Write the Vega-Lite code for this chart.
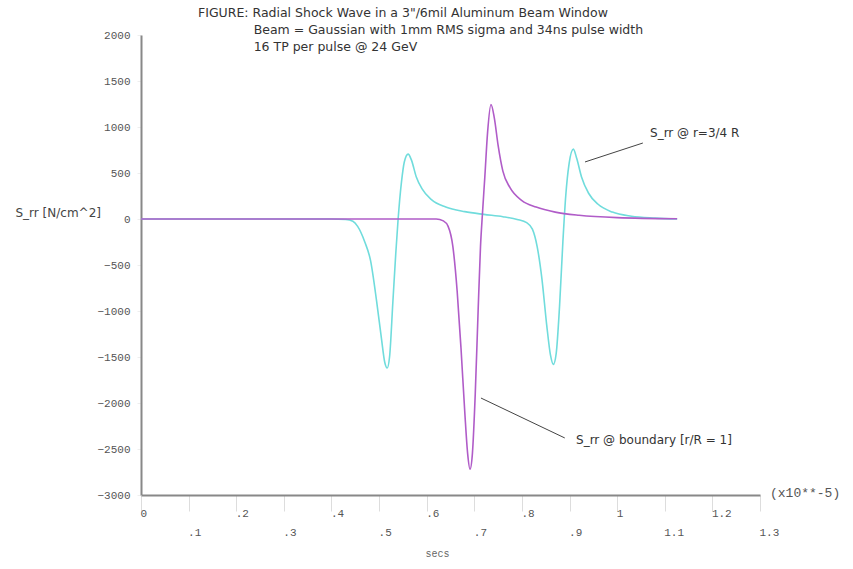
{
  "$schema": "https://vega.github.io/schema/vega-lite/v6.json",
  "width": 619,
  "height": 460,
  "autosize": "none",
  "padding": {"left": 141, "top": 35, "right": 93, "bottom": 74},
  "background": "white",
  "config": {"view": {"stroke": null}, "font": "DejaVu Sans"},
  "title": {
    "text": ["FIGURE:  Radial Shock Wave in a 3\"/6mil Aluminum Beam Window", "\u200b\u00a0\u00a0\u00a0\u00a0\u00a0\u00a0\u00a0\u00a0\u00a0\u00a0\u00a0\u00a0\u00a0\u00a0Beam  =  Gaussian with 1mm RMS sigma and 34ns pulse width", "\u200b\u00a0\u00a0\u00a0\u00a0\u00a0\u00a0\u00a0\u00a0\u00a0\u00a0\u00a0\u00a0\u00a0\u00a016 TP per pulse @ 24 GeV"],
    "anchor": "start",
    "frame": "group",
    "dx": 57,
    "offset": -24,
    "fontSize": 12.5,
    "fontWeight": "normal",
    "font": "DejaVu Sans",
    "color": "#333333",
    "lineHeight": 17
  },
  "datasets": {
    "curves": [
      {"t": 0.0, "s": 0, "series": "r=3/4 R"},
      {"t": 0.40, "s": 0, "series": "r=3/4 R"},
      {"t": 0.43, "s": -5, "series": "r=3/4 R"},
      {"t": 0.445, "s": -25, "series": "r=3/4 R"},
      {"t": 0.455, "s": -80, "series": "r=3/4 R"},
      {"t": 0.47, "s": -250, "series": "r=3/4 R"},
      {"t": 0.482, "s": -450, "series": "r=3/4 R"},
      {"t": 0.495, "s": -900, "series": "r=3/4 R"},
      {"t": 0.505, "s": -1300, "series": "r=3/4 R"},
      {"t": 0.512, "s": -1560, "series": "r=3/4 R"},
      {"t": 0.517, "s": -1620, "series": "r=3/4 R"},
      {"t": 0.522, "s": -1500, "series": "r=3/4 R"},
      {"t": 0.529, "s": -900, "series": "r=3/4 R"},
      {"t": 0.535, "s": -380, "series": "r=3/4 R"},
      {"t": 0.54, "s": 0, "series": "r=3/4 R"},
      {"t": 0.547, "s": 400, "series": "r=3/4 R"},
      {"t": 0.553, "s": 620, "series": "r=3/4 R"},
      {"t": 0.561, "s": 705, "series": "r=3/4 R"},
      {"t": 0.568, "s": 640, "series": "r=3/4 R"},
      {"t": 0.578, "s": 460, "series": "r=3/4 R"},
      {"t": 0.59, "s": 330, "series": "r=3/4 R"},
      {"t": 0.61, "s": 210, "series": "r=3/4 R"},
      {"t": 0.64, "s": 130, "series": "r=3/4 R"},
      {"t": 0.68, "s": 80, "series": "r=3/4 R"},
      {"t": 0.72, "s": 50, "series": "r=3/4 R"},
      {"t": 0.76, "s": 25, "series": "r=3/4 R"},
      {"t": 0.79, "s": -5, "series": "r=3/4 R"},
      {"t": 0.81, "s": -40, "series": "r=3/4 R"},
      {"t": 0.822, "s": -110, "series": "r=3/4 R"},
      {"t": 0.832, "s": -300, "series": "r=3/4 R"},
      {"t": 0.842, "s": -650, "series": "r=3/4 R"},
      {"t": 0.852, "s": -1150, "series": "r=3/4 R"},
      {"t": 0.86, "s": -1480, "series": "r=3/4 R"},
      {"t": 0.866, "s": -1580, "series": "r=3/4 R"},
      {"t": 0.872, "s": -1460, "series": "r=3/4 R"},
      {"t": 0.879, "s": -950, "series": "r=3/4 R"},
      {"t": 0.886, "s": -250, "series": "r=3/4 R"},
      {"t": 0.892, "s": 250, "series": "r=3/4 R"},
      {"t": 0.899, "s": 600, "series": "r=3/4 R"},
      {"t": 0.908, "s": 760, "series": "r=3/4 R"},
      {"t": 0.915, "s": 660, "series": "r=3/4 R"},
      {"t": 0.925, "s": 460, "series": "r=3/4 R"},
      {"t": 0.94, "s": 280, "series": "r=3/4 R"},
      {"t": 0.96, "s": 160, "series": "r=3/4 R"},
      {"t": 0.99, "s": 75, "series": "r=3/4 R"},
      {"t": 1.03, "s": 30, "series": "r=3/4 R"},
      {"t": 1.08, "s": 10, "series": "r=3/4 R"},
      {"t": 1.126, "s": 0, "series": "r=3/4 R"},
      {"t": 0.0, "s": 0, "series": "boundary"},
      {"t": 0.62, "s": 0, "series": "boundary"},
      {"t": 0.635, "s": -20, "series": "boundary"},
      {"t": 0.645, "s": -80, "series": "boundary"},
      {"t": 0.655, "s": -300, "series": "boundary"},
      {"t": 0.664, "s": -785, "series": "boundary"},
      {"t": 0.672, "s": -1400, "series": "boundary"},
      {"t": 0.68, "s": -2100, "series": "boundary"},
      {"t": 0.686, "s": -2550, "series": "boundary"},
      {"t": 0.691, "s": -2720, "series": "boundary"},
      {"t": 0.696, "s": -2550, "series": "boundary"},
      {"t": 0.702, "s": -1900, "series": "boundary"},
      {"t": 0.708, "s": -1000, "series": "boundary"},
      {"t": 0.713, "s": -300, "series": "boundary"},
      {"t": 0.717, "s": 50, "series": "boundary"},
      {"t": 0.722, "s": 450, "series": "boundary"},
      {"t": 0.728, "s": 950, "series": "boundary"},
      {"t": 0.735, "s": 1245, "series": "boundary"},
      {"t": 0.742, "s": 1100, "series": "boundary"},
      {"t": 0.75, "s": 800, "series": "boundary"},
      {"t": 0.76, "s": 520, "series": "boundary"},
      {"t": 0.775, "s": 340, "series": "boundary"},
      {"t": 0.8, "s": 200, "series": "boundary"},
      {"t": 0.83, "s": 130, "series": "boundary"},
      {"t": 0.87, "s": 75, "series": "boundary"},
      {"t": 0.92, "s": 40, "series": "boundary"},
      {"t": 1.0, "s": 15, "series": "boundary"},
      {"t": 1.126, "s": 3, "series": "boundary"}
    ],
    "notes": [
      {"t": 1.069, "s": 935, "label": "S_rr @ r=3/4 R"},
      {"t": 0.9136, "s": -2402, "label": "S_rr @ boundary [r/R = 1]"}
    ],
    "leaders": [
      {"t": 0.9325, "s": 620, "t2": 1.054, "s2": 826},
      {"t": 0.714, "s": -1946, "t2": 0.89, "s2": -2380}
    ],
    "unit": [{"t": 1.3, "s": -3000, "label": "(x10**-5)"}]
  },
  "layer": [
    {
      "data": {"name": "curves"},
      "mark": {"type": "line", "strokeWidth": 1.6, "interpolate": "monotone", "clip": false},
      "encoding": {
        "x": {
          "field": "t", "type": "quantitative",
          "scale": {"domain": [0, 1.3], "nice": false, "zero": false},
          "axis": {
            "values": [0, 0.1, 0.2, 0.3, 0.4, 0.5, 0.6, 0.7, 0.8, 0.9, 1.0, 1.1, 1.2, 1.3],
            "labelExpr": "datum.value > 0 && datum.value < 1 ? slice(format(datum.value, '.1f'), 1) : format(datum.value, '~g')",
            "labelFont": "Liberation Mono",
            "labelFontSize": 11,
            "labelColor": "#555555",
            "labelAlign": "left",
            "labelOffset": -1,
            "labelPadding": {"condition": {"test": "round(datum.value * 10) % 2 == 1", "value": 15}, "value": -4},
            "labelFlush": false,
            "labelOverlap": false,
            "domainColor": "#888888",
            "domainWidth": 2,
            "tickColor": "#dddddd",
            "tickSize": 16,
            "grid": false,
            "title": "secs",
            "titleFont": "Liberation Mono",
            "titleFontSize": 10,
            "titleFontWeight": "normal",
            "titleColor": "#666666",
            "titleX": 296,
            "titleY": 58,
            "titleAlign": "center",
            "titleBaseline": "middle"
          }
        },
        "y": {
          "field": "s", "type": "quantitative",
          "scale": {"domain": [-3000, 2000], "nice": false},
          "axis": {
            "values": [-3000, -2500, -2000, -1500, -1000, -500, 0, 500, 1000, 1500, 2000],
            "format": "d",
            "labelFont": "Liberation Mono",
            "labelFontSize": 11,
            "labelColor": "#555555",
            "labelPadding": 7,
            "domainColor": "#888888",
            "domainWidth": 2,
            "tickColor": "#eeeeee",
            "tickSize": 4,
            "grid": false,
            "title": "S_rr [N/cm^2]",
            "titleAngle": 0,
            "titleAlign": "left",
            "titleBaseline": "middle",
            "titleX": -126,
            "titleY": 177,
            "titleFont": "DejaVu Sans",
            "titleFontSize": 12,
            "titleFontWeight": "normal",
            "titleColor": "#444444"
          }
        },
        "color": {
          "field": "series", "type": "nominal",
          "scale": {"domain": ["r=3/4 R", "boundary"], "range": ["#70dcdc", "#b05cc8"]},
          "legend": null
        }
      }
    },
    {
      "data": {"name": "leaders"},
      "mark": {"type": "rule", "color": "#444444", "strokeWidth": 1},
      "encoding": {
        "x": {"field": "t", "type": "quantitative"},
        "y": {"field": "s", "type": "quantitative"},
        "x2": {"field": "t2"},
        "y2": {"field": "s2"}
      }
    },
    {
      "data": {"name": "notes"},
      "mark": {"type": "text", "align": "left", "baseline": "middle", "fontSize": 12, "font": "DejaVu Sans", "color": "#333333", "clip": false},
      "encoding": {
        "x": {"field": "t", "type": "quantitative"},
        "y": {"field": "s", "type": "quantitative"},
        "text": {"field": "label"}
      }
    },
    {
      "data": {"name": "unit"},
      "mark": {"type": "text", "align": "left", "baseline": "middle", "fontSize": 13, "font": "Liberation Mono", "color": "#555555", "dx": 10, "dy": -2, "clip": false},
      "encoding": {
        "x": {"field": "t", "type": "quantitative"},
        "y": {"field": "s", "type": "quantitative"},
        "text": {"field": "label"}
      }
    }
  ]
}
